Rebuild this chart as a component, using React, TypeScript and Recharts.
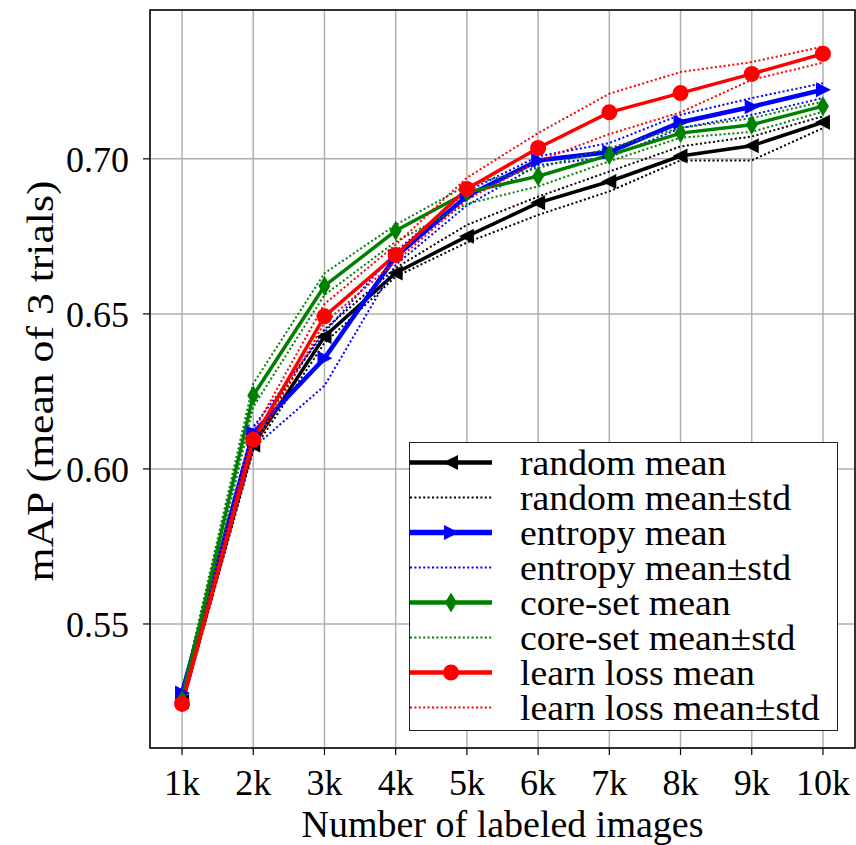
import {
  CartesianGrid,
  Legend,
  Line,
  LineChart,
  ReferenceArea,
  XAxis,
  YAxis,
} from "recharts";

const sizes = [1, 2, 3, 4, 5, 6, 7, 8, 9, 10];
const yTicks = [0.55, 0.6, 0.65, 0.7];

const randomMean = [0.525, 0.6077, 0.6427, 0.6632, 0.675, 0.6858, 0.6927, 0.7009, 0.7042, 0.7118];
const randomUpper = [0.5265, 0.61, 0.645, 0.6648, 0.6787, 0.6878, 0.6959, 0.704, 0.7072, 0.7137];
const randomLower = [0.5235, 0.606, 0.6406, 0.662, 0.673, 0.6819, 0.6895, 0.6995, 0.6995, 0.7099];

const entropyMean = [0.5277, 0.6116, 0.6357, 0.6685, 0.688, 0.6995, 0.7022, 0.7118, 0.7168, 0.7223];
const entropyUpper = [0.529, 0.6135, 0.644, 0.6701, 0.6895, 0.7008, 0.7051, 0.7142, 0.7196, 0.7244];
const entropyLower = [0.5262, 0.6068, 0.6268, 0.6658, 0.685, 0.698, 0.7005, 0.7099, 0.7142, 0.7196];

const coresetMean = [0.5255, 0.6237, 0.659, 0.6768, 0.6892, 0.6944, 0.7012, 0.7083, 0.711, 0.717];
const coresetUpper = [0.5275, 0.6275, 0.6631, 0.6787, 0.6915, 0.697, 0.7035, 0.71, 0.7131, 0.7185];
const coresetLower = [0.5225, 0.62, 0.6561, 0.6733, 0.6855, 0.6911, 0.6992, 0.7068, 0.7087, 0.7152];

const lossMean = [0.5242, 0.6094, 0.6492, 0.669, 0.6903, 0.7035, 0.715, 0.7212, 0.7274, 0.7339];
const lossUpper = [0.5255, 0.612, 0.6532, 0.6723, 0.6939, 0.7083, 0.721, 0.728, 0.7312, 0.7362];
const lossLower = [0.523, 0.607, 0.6471, 0.6669, 0.6868, 0.6993, 0.708, 0.715, 0.7255, 0.731];

const legendLabels = [
  "random mean",
  "random mean\u00b1std",
  "entropy mean",
  "entropy mean\u00b1std",
  "core-set mean",
  "core-set mean\u00b1std",
  "learn loss mean",
  "learn loss mean\u00b1std",
];

const data = sizes.map((n, i) => ({
  n,
  randomMean: randomMean[i],
  randomUpper: randomUpper[i],
  randomLower: randomLower[i],
  entropyMean: entropyMean[i],
  entropyUpper: entropyUpper[i],
  entropyLower: entropyLower[i],
  coresetMean: coresetMean[i],
  coresetUpper: coresetUpper[i],
  coresetLower: coresetLower[i],
  lossMean: lossMean[i],
  lossUpper: lossUpper[i],
  lossLower: lossLower[i],
}));

const FONT = '"Liberation Serif", "Times New Roman", serif';
const DOTTED = "2 2.4";

type Shape = "left" | "right" | "diamond" | "circle";

function marker(shape: Shape, color: string, cx: number, cy: number, key?: any) {
  if (shape === "circle") return <circle key={key} cx={cx} cy={cy} r={8} fill={color} />;
  let pts = "";
  if (shape === "left") pts = `${cx - 8},${cy} ${cx + 7},${cy - 7.5} ${cx + 7},${cy + 7.5}`;
  if (shape === "right") pts = `${cx + 8},${cy} ${cx - 7},${cy - 7.5} ${cx - 7},${cy + 7.5}`;
  if (shape === "diamond") pts = `${cx},${cy - 10} ${cx + 6},${cy} ${cx},${cy + 10} ${cx - 6},${cy}`;
  return <polygon key={key} points={pts} fill={color} />;
}

const dotFn = (shape: Shape, color: string) => (p: any) =>
  marker(shape, color, p.cx, p.cy, `${shape}-${p.index}`);

const methods = [
  { key: "random", color: "#000000", shape: "left" as Shape, width: 3.5 },
  { key: "entropy", color: "#0000ff", shape: "right" as Shape, width: 4.5 },
  { key: "coreset", color: "#008000", shape: "diamond" as Shape, width: 3.5 },
  { key: "loss", color: "#ff0000", shape: "circle" as Shape, width: 3.5 },
];

function LegendBox() {
  return (
    <div
      style={{
        background: "#fff",
        border: "1.5px solid #222",
        paddingTop: 2,
        paddingBottom: 5,
        fontFamily: FONT,
        fontSize: 34,
        color: "#000",
      }}
    >
      {legendLabels.map((label, i) => {
        const m = methods[Math.floor(i / 2)];
        const isMean = i % 2 === 0;
        return (
          <div key={label} style={{ display: "flex", alignItems: "center", height: 35 }}>
            <svg width={82} height={35} style={{ flex: "none" }}>
              <line
                x1={0}
                x2={82}
                y1={17.5}
                y2={17.5}
                stroke={m.color}
                strokeWidth={isMean ? m.width + 1 : 2}
                strokeDasharray={isMean ? undefined : DOTTED}
              />
              {isMean && marker(m.shape, m.color, 41, 17.5)}
            </svg>
            <span
              style={{
                display: "inline-block",
                marginLeft: 28,
                whiteSpace: "nowrap",
                lineHeight: "33px",
                transform: "scale(1.11, 1.04)",
                transformOrigin: "left center",
                position: "relative",
                top: 1,
              }}
            >
              {label}
            </span>
          </div>
        );
      })}
    </div>
  );
}

const YTitle = () => (
  <text
    transform="translate(53, 381) rotate(-90) scale(1.12, 1)"
    textAnchor="middle"
    fontSize={39}
    fill="#000"
    fontFamily={FONT}
  >
    mAP (mean of 3 trials)
  </text>
);

export default function App() {
  return (
    <div style={{ position: "absolute", left: 0, top: 0, fontFamily: FONT }}>
      <LineChart
        width={856}
        height={845}
        data={data}
        margin={{ top: 10, right: 1, bottom: 0, left: 0 }}
        style={{ fontFamily: FONT }}
      >
        <CartesianGrid stroke="#b0b0b0" strokeWidth={1.5} />
        <XAxis
          dataKey="n"
          type="number"
          domain={[0.55, 10.45]}
          ticks={sizes}
          tickFormatter={(v) => `${v}k`}
          height={97}
          axisLine={false}
          tickLine={{ stroke: "#000", strokeWidth: 1.2 }}
          tickSize={7}
          tickMargin={14}
          tick={{ fontSize: 36, fill: "#000", fontFamily: FONT }}
          interval={0}
          label={{
            value: "Number of labeled images",
            position: "insideBottom",
            offset: 8,
            fontSize: 38,
            fill: "#000",
            fontFamily: FONT,
          }}
        />
        <YAxis
          type="number"
          domain={[0.51, 0.748]}
          ticks={yTicks}
          tickFormatter={(v) => v.toFixed(2)}
          width={150}
          axisLine={false}
          tickLine={{ stroke: "#000", strokeWidth: 1.2 }}
          tickSize={7}
          tickMargin={14}
          tick={{ fontSize: 36, fill: "#000", fontFamily: FONT }}
          interval={0}
          allowDataOverflow
          label={{ content: () => <YTitle /> }}
        />
        {methods.map((m) => [
          <Line
            key={`${m.key}Mean`}
            dataKey={`${m.key}Mean`}
            type="linear"
            stroke={m.color}
            strokeWidth={m.width}
            dot={dotFn(m.shape, m.color)}
            activeDot={false}
            isAnimationActive={false}
            legendType="none"
          />,
          <Line
            key={`${m.key}Upper`}
            dataKey={`${m.key}Upper`}
            type="linear"
            stroke={m.color}
            strokeWidth={2}
            strokeDasharray={DOTTED}
            dot={false}
            activeDot={false}
            isAnimationActive={false}
            legendType="none"
          />,
          <Line
            key={`${m.key}Lower`}
            dataKey={`${m.key}Lower`}
            type="linear"
            stroke={m.color}
            strokeWidth={2}
            strokeDasharray={DOTTED}
            dot={false}
            activeDot={false}
            isAnimationActive={false}
            legendType="none"
          />,
        ])}
        <ReferenceArea
          x1={0.55}
          x2={10.45}
          y1={0.51}
          y2={0.748}
          fill="none"
          stroke="#000"
          strokeWidth={1.5}
          ifOverflow="visible"
        />
        <Legend
          layout="vertical"
          align="center"
          verticalAlign="middle"
          wrapperStyle={{ left: 409, top: 442, width: 429 }}
          content={() => <LegendBox />}
        />
      </LineChart>
    </div>
  );
}
